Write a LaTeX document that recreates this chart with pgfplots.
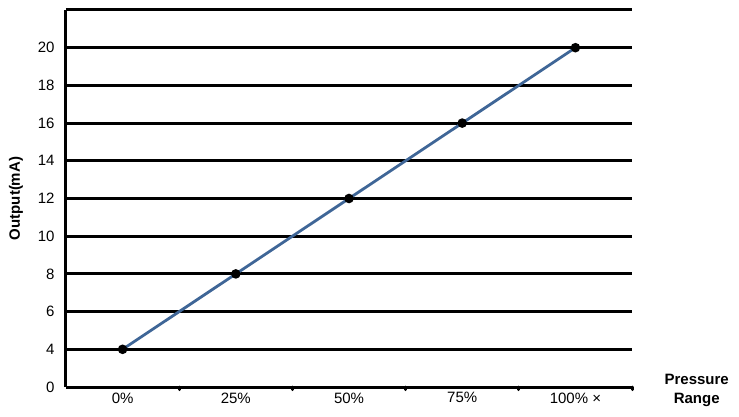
\documentclass[border=0pt]{standalone}
\usepackage{pgfplots}
\pgfplotsset{compat=1.18}
\usepackage{fontspec}
\setmainfont{Liberation Sans}
\definecolor{lineblue}{HTML}{3F6697}
\begin{document}
\begin{tikzpicture}
\begin{axis}[
  scale only axis,
  width=566bp, height=377bp,
  xmin=-0.5, xmax=4.5,
  ymin=0, ymax=22,
  y coord trafo/.code={\pgfmathparse{#1<4 ? #1/4 : (#1-2)/2}},
  axis x line*=bottom, axis y line*=left,
  axis line style={line width=3bp, black},
  xtick={0,1,2,3,4},
  xticklabels={0\%,25\%,50\%,75\%,100\% ×},
  minor xtick={0.5,1.5,2.5,3.5,4.5},
  ytick={0,4,6,8,10,12,14,16,18,20,22},
  yticklabels={0,4,6,8,10,12,14,16,18,20,{}},
  major tick length=0pt,
  minor tick length=2.5bp,
  tick align=outside,
  minor tick style={line width=3bp, line cap=round, black},
  ymajorgrids,
  major grid style={line width=3bp, black},
  tick label style={font=\fontsize{15bp}{18bp}\selectfont},
  /pgf/number format/assume math mode=true,
  yticklabel style={xshift=-8bp},
  xticklabel style={yshift=-2bp},
  ylabel={\bfseries Output(mA)},
  ylabel style={font=\fontsize{15bp}{18bp}\selectfont, at={(axis description cs:-0.0883,0.5)}, anchor=center},
  xlabel={\bfseries Pressure\\\bfseries Range},
  xlabel style={font=\fontsize{15bp}{19bp}\selectfont, align=center, at={(axis description cs:1.1143,-0.0083)}, anchor=center},
  clip=false,
]
\addplot[color=lineblue, line width=2.8bp, mark=*, mark size=3.3bp, mark options={black, fill=black}]
  coordinates {(0,4) (1,8) (2,12) (3,16) (4,20)};
\path[use as bounding box] (rel axis cs:-0.1166,-0.0769) rectangle (rel axis cs:1.189,1.0265);
\end{axis}
\end{tikzpicture}
\end{document}
